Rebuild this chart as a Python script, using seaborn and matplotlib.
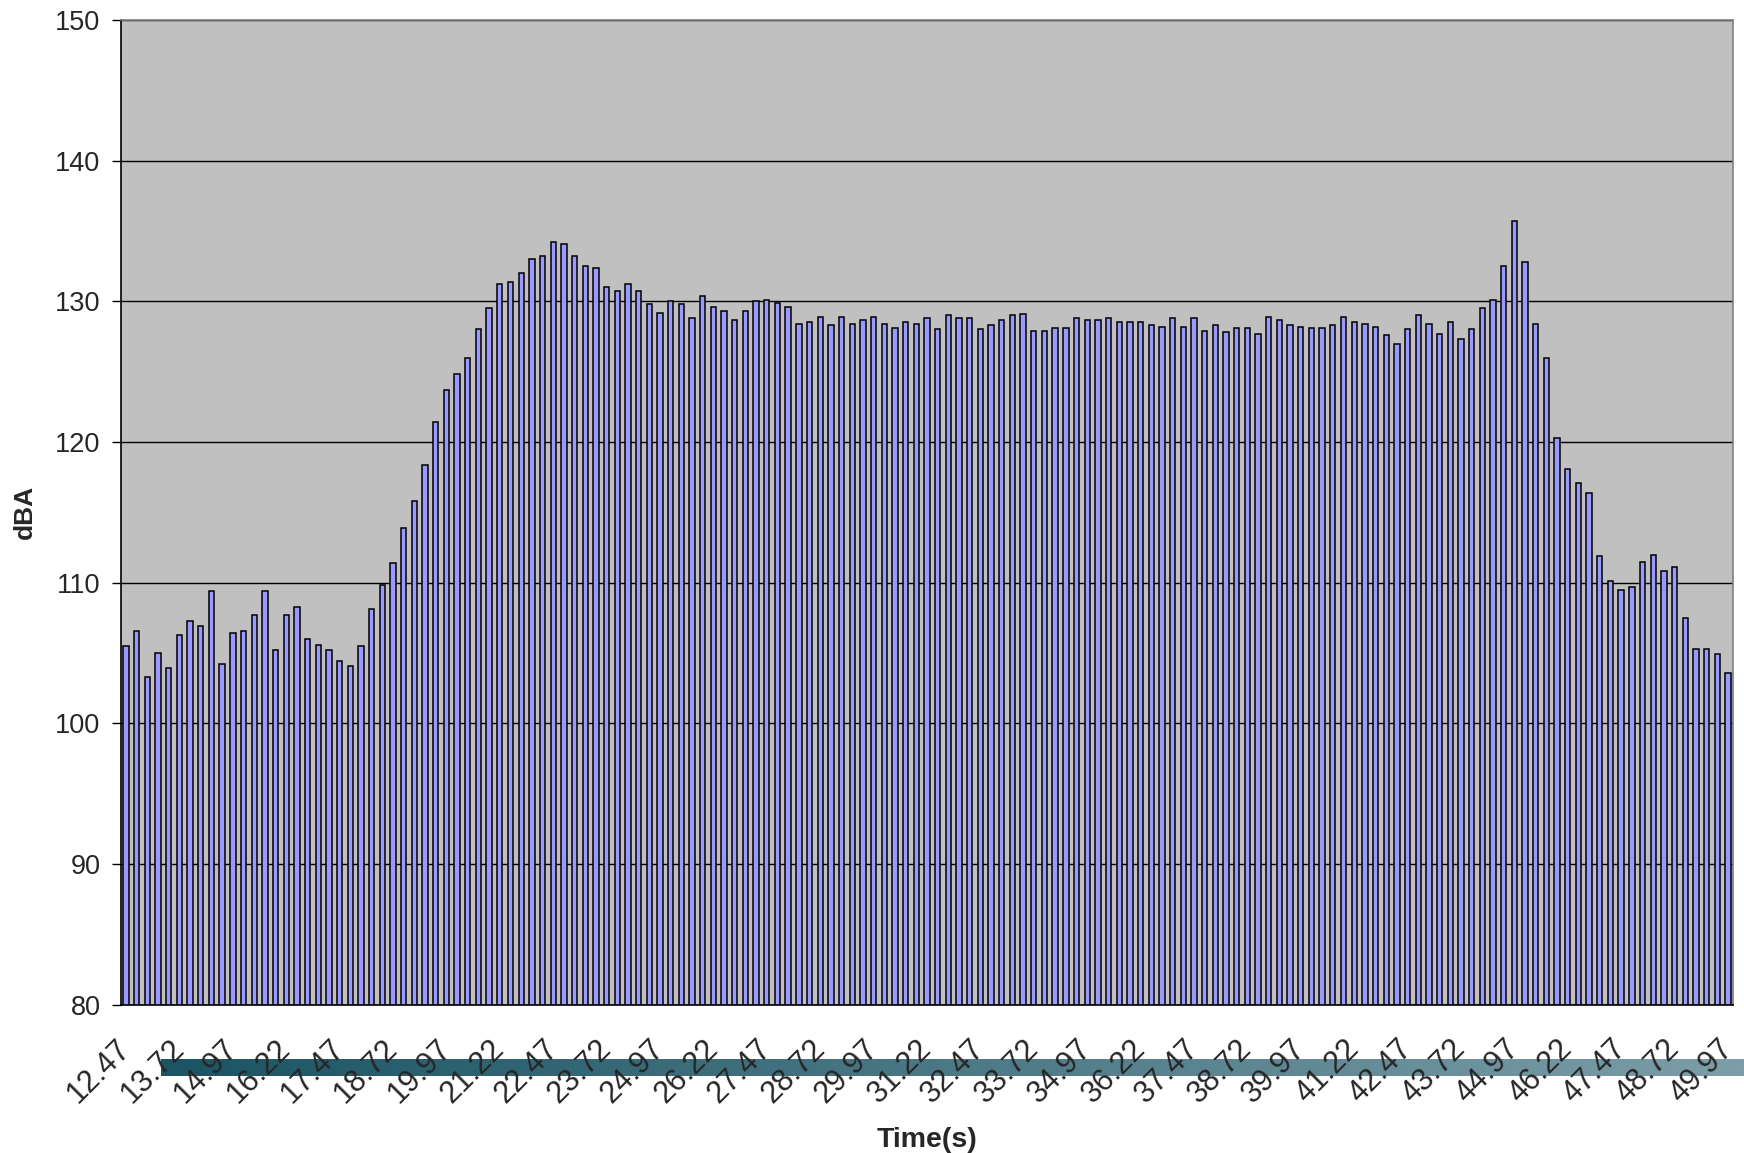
import numpy as np
import pandas as pd
import matplotlib
matplotlib.use("Agg")
import matplotlib.pyplot as plt
from matplotlib.colors import LinearSegmentedColormap
import seaborn as sns

# time stamps (s), one bar each
times = [
    12.47, 12.72, 12.97, 13.22, 13.47, 13.72, 13.97, 14.22, 14.47, 14.72,
    14.97, 15.22, 15.47, 15.72, 15.97, 16.22, 16.47, 16.72, 16.97, 17.22,
    17.47, 17.72, 17.97, 18.22, 18.47, 18.72, 18.97, 19.22, 19.47, 19.72,
    19.97, 20.22, 20.47, 20.72, 20.97, 21.22, 21.47, 21.72, 21.97, 22.22,
    22.47, 22.72, 22.97, 23.22, 23.47, 23.72, 23.97, 24.22, 24.47, 24.72,
    24.97, 25.22, 25.47, 25.72, 25.97, 26.22, 26.47, 26.72, 26.97, 27.22,
    27.47, 27.72, 27.97, 28.22, 28.47, 28.72, 28.97, 29.22, 29.47, 29.72,
    29.97, 30.22, 30.47, 30.72, 30.97, 31.22, 31.47, 31.72, 31.97, 32.22,
    32.47, 32.72, 32.97, 33.22, 33.47, 33.72, 33.97, 34.22, 34.47, 34.72,
    34.97, 35.22, 35.47, 35.72, 35.97, 36.22, 36.47, 36.72, 36.97, 37.22,
    37.47, 37.72, 37.97, 38.22, 38.47, 38.72, 38.97, 39.22, 39.47, 39.72,
    39.97, 40.22, 40.47, 40.72, 40.97, 41.22, 41.47, 41.72, 41.97, 42.22,
    42.47, 42.72, 42.97, 43.22, 43.47, 43.72, 43.97, 44.22, 44.47, 44.72,
    44.97, 45.22, 45.47, 45.72, 45.97, 46.22, 46.47, 46.72, 46.97, 47.22,
    47.47, 47.72, 47.97, 48.22, 48.47, 48.72, 48.97, 49.22, 49.47, 49.72,
    49.97,
]

# sound level (dBA)
dba = [
    105.5, 106.6, 103.3, 105.0, 103.9, 106.3, 107.3, 106.9, 109.4, 104.2,
    106.4, 106.6, 107.7, 109.4, 105.2, 107.7, 108.3, 106.0, 105.6, 105.2,
    104.4, 104.1, 105.5, 108.1, 109.8, 111.4, 113.9, 115.8, 118.4, 121.4,
    123.7, 124.8, 126.0, 128.0, 129.5, 131.2, 131.4, 132.0, 133.0, 133.2,
    134.2, 134.1, 133.2, 132.5, 132.4, 131.0, 130.7, 131.2, 130.7, 129.8,
    129.2, 130.0, 129.8, 128.8, 130.4, 129.6, 129.3, 128.7, 129.3, 130.0,
    130.1, 129.9, 129.6, 128.4, 128.5, 128.9, 128.3, 128.9, 128.4, 128.7,
    128.9, 128.4, 128.1, 128.5, 128.4, 128.8, 128.0, 129.0, 128.8, 128.8,
    128.0, 128.3, 128.7, 129.0, 129.1, 127.9, 127.9, 128.1, 128.1, 128.8,
    128.7, 128.7, 128.8, 128.5, 128.5, 128.5, 128.3, 128.2, 128.8, 128.2,
    128.8, 127.9, 128.3, 127.8, 128.1, 128.1, 127.7, 128.9, 128.7, 128.3,
    128.2, 128.1, 128.1, 128.3, 128.9, 128.5, 128.4, 128.2, 127.6, 127.0,
    128.0, 129.0, 128.4, 127.7, 128.5, 127.3, 128.0, 129.5, 130.1, 132.5,
    135.7, 132.8, 128.4, 126.0, 120.3, 118.1, 117.1, 116.4, 111.9, 110.1,
    109.5, 109.7, 111.5, 112.0, 110.8, 111.1, 107.5, 105.3, 105.3, 104.9,
    103.6,
]

tick_labels = [
    "12.47", "13.72", "14.97", "16.22", "17.47", "18.72", "19.97", "21.22",
    "22.47", "23.72", "24.97", "26.22", "27.47", "28.72", "29.97", "31.22",
    "32.47", "33.72", "34.97", "36.22", "37.47", "38.72", "39.97", "41.22",
    "42.47", "43.72", "44.97", "46.22", "47.47", "48.72", "49.97",
]
y_ticks = [80, 90, 100, 110, 120, 130, 140, 150]

df = pd.DataFrame({"time": [f"{t:.2f}" for t in times], "dba": dba})

sns.set_style("white")
plt.rcParams["font.family"] = ["Liberation Sans", "DejaVu Sans"]

W, H = 1744, 1153
fig = plt.figure(figsize=(W / 100, H / 100), dpi=100)

# odd gradient strip sitting behind the x labels
gax = fig.add_axes([161 / W, 1 - 1076 / H, (W - 161) / W, 17 / H])
cmap = LinearSegmentedColormap.from_list("strip", ["#1b5464", "#7c9ea8"])
gax.imshow(np.linspace(0, 1, 256)[None, :], aspect="auto", cmap=cmap)
gax.set_axis_off()
gax.set_zorder(0)

ax = fig.add_axes([120.7 / W, 1 - 1004.7 / H, 1612.6 / W, 984.7 / H])
ax.set_zorder(1)
ax.set_facecolor("#c0c0c0")

sns.barplot(data=df, x="time", y="dba", color="#9999ff", saturation=1,
            edgecolor="black", linewidth=1.1, width=0.5, ax=ax)

ax.set_ylim(80, 150)
ax.set_yticks(y_ticks)
ax.yaxis.grid(True, color="black", linewidth=1)
ax.set_axisbelow(True)

n = len(dba)
ax.set_xlim(-0.5, n - 0.5)
ax.set_xticks(range(n))
labels = [""] * n
for i, lab in enumerate(tick_labels):
    labels[i * 5] = lab
ax.set_xticklabels(labels, rotation=45, ha="right", va="center",
                   rotation_mode="anchor")
ax.tick_params(axis="x", length=6.5, width=1, color="black", pad=22,
               labelsize=22)
ax.tick_params(axis="y", length=6.5, width=1, color="black", pad=8,
               labelsize=19.5, left=True)

ax.set_xlabel("")
ax.set_ylabel("")
for s in ["left", "bottom"]:
    ax.spines[s].set_color("black")
    ax.spines[s].set_linewidth(1.2)
for s in ["top", "right"]:
    ax.spines[s].set_color("#808080")
    ax.spines[s].set_linewidth(1.2)

fig.text(24.5 / W, 1 - 512 / H, "dBA", rotation=90, ha="center", va="center",
         fontsize=19, fontweight="bold")
fig.text(927 / W, 1 - 1140 / H, "Time(s)", ha="center", va="center",
         fontsize=20.5, fontweight="bold")

fig.savefig("out.png", dpi=100)
